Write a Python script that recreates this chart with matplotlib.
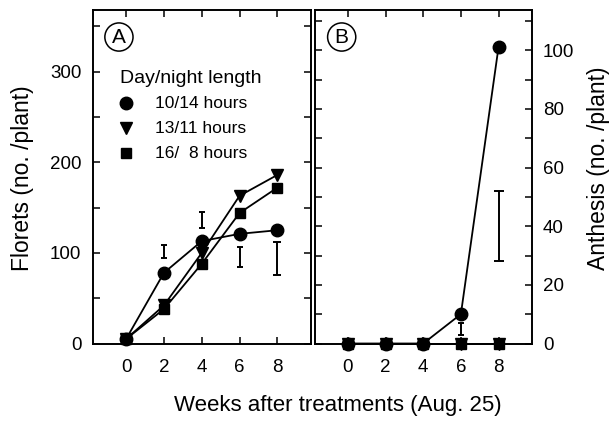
import matplotlib.pyplot as plt
from matplotlib.ticker import MultipleLocator

plt.rcParams["font.family"] = ["Liberation Sans", "DejaVu Sans"]
plt.rcParams["font.size"] = 13.5

# weeks after treatment
weeks = [0, 2, 4, 6, 8]

# florets per plant
florets_10_14 = [5, 78, 113, 121, 125]
florets_13_11 = [5, 42, 100, 163, 186]
florets_16_8 = [5, 38, 88, 144, 172]

# anthesis per plant
anthesis_10_14 = [0, 0, 0, 10, 101]
anthesis_13_11 = [0, 0, 0, 0, 0]
anthesis_16_8 = [0, 0, 0, 0, 0]

# LSD bars (bottom, top)
florets_lsd_weeks = [2, 4, 6, 8]
florets_lsd_low = [94, 128, 84, 76]
florets_lsd_high = [109, 145, 106, 112]

anthesis_lsd_weeks = [6, 8]
anthesis_lsd_low = [3, 28]
anthesis_lsd_high = [7, 52]

labels = ["10/14 hours", "13/11 hours", "16/  8 hours"]
markers = ["o", "v", "s"]
msizes = [9, 9, 7.5]

W, H = 611, 425
fig = plt.figure(figsize=(W / 100, H / 100), dpi=100)

ax1 = fig.add_axes([92.5 / W, 1 - 343.5 / H, 218.5 / W, 333.5 / H])
ax2 = fig.add_axes([314.5 / W, 1 - 343.5 / H, 217.5 / W, 333.5 / H])


def style_axis(ax):
    for s in ax.spines.values():
        s.set_linewidth(1.4)
    ax.set_xlim(-1.78, 9.78)
    ax.set_xticks(weeks)
    ax.tick_params(axis="both", which="both", direction="in", top=True,
                   right=True, width=1.1, length=5)
    ax.tick_params(axis="x", pad=11)


def lsd_bars(ax, x, low, high, caps):
    # one call per bar so each cap can have its own width
    for xi, a, b, c in zip(x, low, high, caps):
        ax.errorbar([xi], [(a + b) / 2], yerr=[(b - a) / 2], fmt="none",
                    ecolor="black", elinewidth=1.4, capsize=c, capthick=1.4)


# ---- panel A: florets
style_axis(ax1)
for y, m, ms in zip([florets_10_14, florets_13_11, florets_16_8], markers, msizes):
    ax1.plot(weeks, y, color="black", lw=1.3, marker=m, ms=ms, clip_on=False)
lsd_bars(ax1, florets_lsd_weeks, florets_lsd_low, florets_lsd_high,
         [1.9, 1.9, 1.9, 2.6])
ax1.set_ylim(0, 368)
ax1.yaxis.set_major_locator(MultipleLocator(100))
ax1.yaxis.set_minor_locator(MultipleLocator(50))
ax1.tick_params(axis="y", pad=8)

# legend
ax1.text(0.126, 0.796, "Day/night length", transform=ax1.transAxes,
         ha="left", va="center", fontsize=14)
for i, (lab, m, ms) in enumerate(zip(labels, markers, msizes)):
    yy = 0.721 - i * 0.075
    ax1.plot([0.153], [yy], marker=m, ms=ms, color="black",
             transform=ax1.transAxes, clip_on=False)
    ax1.text(0.286, yy, lab, transform=ax1.transAxes, ha="left",
             va="center", fontsize=12.5)

ax1.text(0.121, 0.919, "A", transform=ax1.transAxes, ha="center", va="center",
         fontsize=15, bbox=dict(boxstyle="circle,pad=0.22", fc="none",
                                ec="black", lw=1.1))

# ---- panel B: anthesis
style_axis(ax2)
for y, m, ms in zip([anthesis_10_14, anthesis_13_11, anthesis_16_8], markers, msizes):
    ax2.plot(weeks, y, color="black", lw=1.3, marker=m, ms=ms, clip_on=False)
lsd_bars(ax2, anthesis_lsd_weeks, anthesis_lsd_low, anthesis_lsd_high, [1.9, 3.6])
ax2.set_ylim(0, 113.7)
ax2.yaxis.set_major_locator(MultipleLocator(20))
ax2.yaxis.set_minor_locator(MultipleLocator(10))
ax2.tick_params(axis="y", which="both", labelleft=False, labelright=True, pad=8)

ax2.text(0.125, 0.919, "B", transform=ax2.transAxes, ha="center", va="center",
         fontsize=15, bbox=dict(boxstyle="circle,pad=0.22", fc="none",
                                ec="black", lw=1.1))

# axis titles
fig.text(22.5 / W, 1 - 178.5 / H, "Florets (no. /plant)", rotation=90,
         ha="center", va="center", fontsize=16.5)
fig.text(598 / W, 1 - 168 / H, "Anthesis (no. /plant)", rotation=90,
         ha="center", va="center", fontsize=16.5)
fig.text(337.5 / W, 1 - 411.5 / H, "Weeks after treatments (Aug. 25)",
         ha="center", va="baseline", fontsize=16)

fig.savefig("out.png", dpi=100)
